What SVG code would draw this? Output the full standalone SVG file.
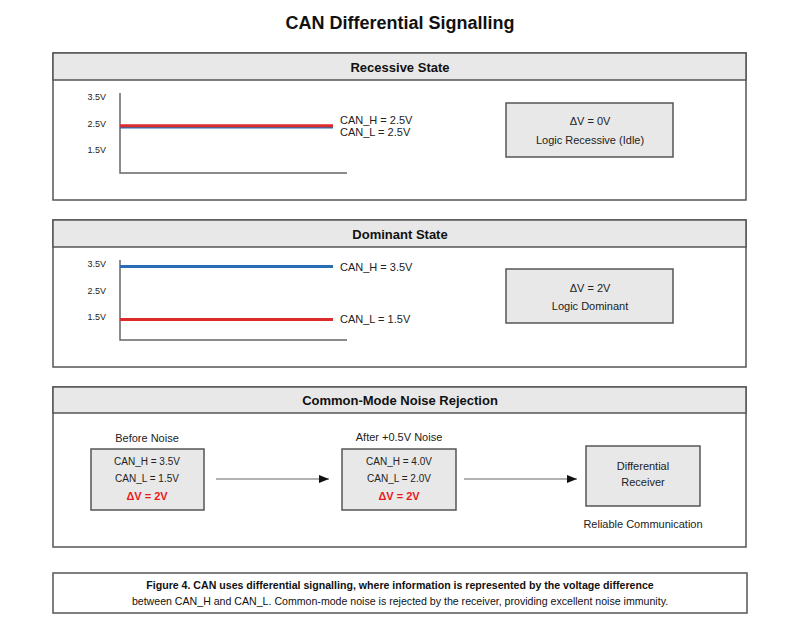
<svg xmlns="http://www.w3.org/2000/svg" width="800" height="633" viewBox="0 0 800 633">
<defs>
<style>
text{font-family:"Liberation Sans",Arial,sans-serif;fill:#222}
.title{font-size:18px;font-weight:bold;text-anchor:middle;fill:#111}
.panel{fill:#fff;stroke:#555;stroke-width:1.5}
.hdr{fill:#e8e8e8;stroke:#555;stroke-width:1.5}
.htxt{font-size:13px;font-weight:bold;text-anchor:middle;fill:#111}
.axis{stroke:#666;stroke-width:1.5;fill:none}
.ylab{font-size:9px;text-anchor:end}
.sig{font-size:11px}
.box{fill:#e8e8e8;stroke:#555;stroke-width:1.5}
.c11{font-size:11px;text-anchor:middle}
.c10{font-size:10px;text-anchor:middle}
.dv{font-size:11px;font-weight:bold;text-anchor:middle;fill:#e8191c}
.blue{stroke:#2a6db5;stroke-width:3}
.red{stroke:#dc2b2b;stroke-width:3}
.conn{stroke:#666;stroke-width:1.2;fill:none}
.cap1{font-size:10.6px;font-weight:bold;text-anchor:middle;fill:#111}
.cap2{font-size:10.6px;text-anchor:middle;fill:#111}
</style>
<marker id="ah" markerWidth="10" markerHeight="8" refX="10" refY="4" orient="auto" markerUnits="userSpaceOnUse">
<path d="M0,0 L10,4 L0,8 Z" fill="#111"/>
</marker>
</defs>
<rect width="800" height="633" fill="#fff"/>
<text class="title" x="400" y="29">CAN Differential Signalling</text>

<g id="recessive">
<rect class="panel" x="53" y="53" width="693" height="147"/>
<rect class="hdr" x="53" y="53" width="693" height="27"/>
<text class="htxt" x="400" y="72">Recessive State</text>
<path class="axis" d="M120,93 V173 H347"/>
<text class="ylab" x="106" y="100">3.5V</text>
<text class="ylab" x="106" y="127">2.5V</text>
<text class="ylab" x="106" y="153">1.5V</text>
<line class="blue" x1="120" y1="127" x2="333" y2="127"/>
<line class="red" x1="120" y1="125.8" x2="333" y2="125.8"/>
<text class="sig" x="340" y="124">CAN_H = 2.5V</text>
<text class="sig" x="340" y="136">CAN_L = 2.5V</text>
</g>
<g id="recessive-result">
<rect class="box" x="506" y="103" width="167" height="54"/>
<text class="c11" x="590" y="125">ΔV = 0V</text>
<text class="c11" x="590" y="144">Logic Recessive (Idle)</text>
</g>

<g id="dominant">
<rect class="panel" x="53" y="220" width="693" height="147"/>
<rect class="hdr" x="53" y="220" width="693" height="27"/>
<text class="htxt" x="400" y="239">Dominant State</text>
<path class="axis" d="M120,260 V340 H347"/>
<text class="ylab" x="106" y="267">3.5V</text>
<text class="ylab" x="106" y="294">2.5V</text>
<text class="ylab" x="106" y="320">1.5V</text>
<line class="blue" x1="120" y1="266.5" x2="333" y2="266.5"/>
<line class="red" x1="120" y1="319.5" x2="333" y2="319.5"/>
<text class="sig" x="340" y="271">CAN_H = 3.5V</text>
<text class="sig" x="340" y="323">CAN_L = 1.5V</text>
</g>
<g id="dominant-result">
<rect class="box" x="506" y="269" width="167" height="54"/>
<text class="c11" x="590" y="292">ΔV = 2V</text>
<text class="c11" x="590" y="310">Logic Dominant</text>
</g>

<g id="noise-panel">
<rect class="panel" x="53" y="387" width="693" height="160"/>
<rect class="hdr" x="53" y="387" width="693" height="26"/>
<text class="htxt" x="400" y="405">Common-Mode Noise Rejection</text>
</g>
<g id="before-noise">
<text class="c11" x="147" y="442">Before Noise</text>
<rect class="box" x="91" y="449" width="113" height="61"/>
<text class="c10" x="147" y="465">CAN_H = 3.5V</text>
<text class="c10" x="147" y="482">CAN_L = 1.5V</text>
<text class="dv" x="147" y="500">ΔV = 2V</text>
</g>
<g id="after-noise">
<text class="c11" x="399" y="441">After +0.5V Noise</text>
<rect class="box" x="342" y="449" width="114" height="61"/>
<text class="c10" x="399" y="465">CAN_H = 4.0V</text>
<text class="c10" x="399" y="482">CAN_L = 2.0V</text>
<text class="dv" x="399" y="500">ΔV = 2V</text>
</g>
<g id="receiver">
<rect class="box" x="586" y="446" width="114" height="60"/>
<text class="c11" x="643" y="470">Differential</text>
<text class="c11" x="643" y="486">Receiver</text>
<text class="c11" x="643" y="528">Reliable Communication</text>
</g>
<g id="connectors">
<line class="conn" x1="216" y1="479" x2="329" y2="479" marker-end="url(#ah)"/>
<line class="conn" x1="464" y1="479" x2="577" y2="479" marker-end="url(#ah)"/>
</g>

<g id="caption">
<rect class="panel" x="53" y="573" width="694" height="40"/>
<text class="cap1" x="400" y="589">Figure 4. CAN uses differential signalling, where information is represented by the voltage difference</text>
<text class="cap2" x="400" y="605">between CAN_H and CAN_L. Common-mode noise is rejected by the receiver, providing excellent noise immunity.</text>
</g>
</svg>
